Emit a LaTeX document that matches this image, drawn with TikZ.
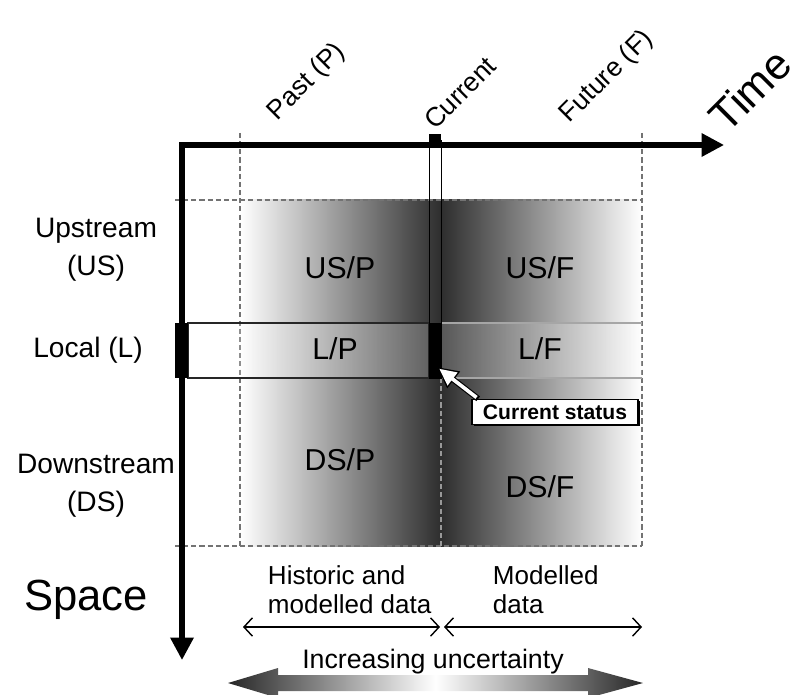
\documentclass[tikz,border=0pt]{standalone}
\usepackage{fontspec}
\setmainfont{Liberation Sans}
\usetikzlibrary{positioning,arrows.meta,shadows}

\begin{document}
\begin{tikzpicture}[
  x=0.025cm, y=-0.025cm,
  axis/.style={line width=3.6pt,line join=miter},
  grid/.style={black!55,line width=1.1pt,dash pattern=on 3.6pt off 2.2pt},
  rowline/.style={line width=0.8pt},
  lbl/.style={align=center,font=\fontsize{20pt}{27pt}\selectfont},
  reg/.style={font=\fontsize{21.5pt}{25pt}\selectfont},
  big/.style={font=\fontsize{31pt}{36pt}\selectfont},
  tlbl/.style={rotate=45,font=\fontsize{19pt}{22pt}\selectfont},
  bot/.style={align=left,font=\fontsize{18.5pt}{20.5pt}\selectfont},
  span/.style={line width=1pt,{Straight Barb[length=6pt,width=13pt]}-{Straight Barb[length=6pt,width=13pt]}},
  csbox/.style={draw,line width=1.2pt,fill=white,minimum width=4.15cm,minimum height=0.62cm,
    inner sep=0pt,font=\bfseries\fontsize{15pt}{17pt}\selectfont,
    drop shadow={shadow xshift=1.2pt,shadow yshift=-1.2pt,fill=black,opacity=1}}
]
\useasboundingbox (0,0) rectangle (800,695);
% shaded past / future band
\shade[left color=white,right color=white,middle color=black!82] (240,200) rectangle (642,546);
% dashed frame
\draw[grid] (175,200) -- (642,200);
\draw[grid] (175,546) -- (642,546);
\draw[grid] (240,133) -- (240,546);
\draw[grid] (642,133) -- (642,546);
\draw[grid,black!40] (441,378) -- (441,546);
% local row
\fill[white,opacity=0.2] (188,323) rectangle (642,378);
\draw[rowline,black!85] (188,323) rectangle (429,378);
\draw[rowline,black!35] (441,323) -- (642,323) (441,378) -- (642,378);
% axes
\coordinate (O) at (182,145);
\coordinate (tEnd) at (724,145);
\coordinate (sEnd) at (182,660);
\draw[axis,{Triangle[length=16pt,width=16pt]}-{Triangle[length=16pt,width=16pt]}] (tEnd) -- (O) -- (sEnd);
\fill (175,323) rectangle (188,378);
% current column
\draw[line width=0.7pt] (429,140) rectangle (441,378);
\fill (429,134) rectangle (441,148);
\fill (429,323) rectangle (441,378);
% axis labels
\node[big] (space) at (86,600) {Space};
\node[big,rotate=45,inner sep=1pt] (time) at (750,90) {Time};
\node[tlbl] (past) at (307,82) {Past (P)};
\node[tlbl] (current) at (460,93) {Current};
\node[tlbl] (future) at (607,77) {Future (F)};
\node[lbl] (us) at (96,250) {Upstream\\(US)};
\node[lbl] (loc) at (88,350) {Local (L)};
\node[lbl] (ds) at (96,486) {Downstream\\(DS)};
% cells
\node[reg] (usp) at (340,268) {US/P};
\node[reg] (usf) at (540,268) {US/F};
\node[reg] (lp) at (335,349) {L/P};
\node[reg] (lf) at (540,349) {L/F};
\node[reg] (dsp) at (340,460) {DS/P};
\node[reg] (dsf) at (540,487) {DS/F};
% current status
\node[csbox] (cs) at (555,412) {Current status};
\coordinate (csTip) at (437,367);
\draw[line width=4.2pt,-{Triangle[length=15pt,width=14pt]}] ([xshift=5pt]cs.north west) -- (csTip);
\draw[white,line width=2.6pt,shorten <=1.5pt,shorten >=2pt,-{Triangle[length=12pt,width=11pt]}] ([xshift=5pt]cs.north west) -- (csTip);
% data spans
\node[bot,anchor=west] (hist) at (263,590) {Historic and\\modelled data};
\node[bot,anchor=west] (modl) at (488,590) {Modelled\\data};
\coordinate (hL) at (243,627);
\coordinate (hR) at (440,627);
\coordinate (mL) at (444,627);
\coordinate (mR) at (642,627);
\draw[span] (hL) -- (hR);
\draw[span] (mL) -- (mR);
% uncertainty arrow
\node[font=\fontsize{19pt}{22pt}\selectfont] (unc) at (433,662) {Increasing uncertainty};
\shade[left color=black!85,right color=black!85,middle color=white]
  (228,683) -- (278,668) -- (278,675) -- (588,675) -- (588,668) -- (643,683)
  -- (588,698) -- (588,691) -- (278,691) -- (278,698) -- cycle;
\end{tikzpicture}
\end{document}
